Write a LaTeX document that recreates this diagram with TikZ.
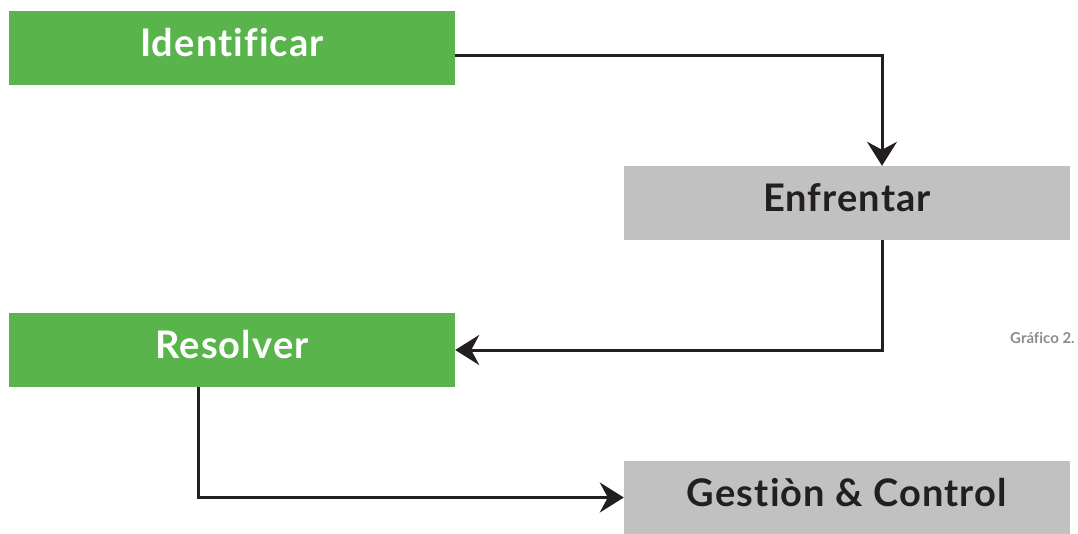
\documentclass[tikz,border=0pt]{standalone}
\usepackage{fontspec}
\setmainfont{Lato}[Ligatures=CommonOff]
\newfontfamily\boxfont{Lato}[Ligatures=CommonOff, LetterSpace=3]
\usetikzlibrary{arrows.meta}
\definecolor{boxgreen}{RGB}{88,180,75}
\definecolor{boxgray}{RGB}{192,193,192}
\definecolor{linedark}{RGB}{35,31,32}
\definecolor{captiongray}{RGB}{140,140,140}
\tikzset{
  boxbase/.style={minimum width=446pt, minimum height=74pt, inner sep=0pt, text height=17pt, text depth=0pt, font=\boxfont\bfseries\fontsize{38}{44}\selectfont},
  greenbox/.style={boxbase, fill=boxgreen, text=white},
  graybox/.style={boxbase, fill=boxgray, text=linedark},
  flow/.style={draw=linedark, line width=3pt, -{Stealth[length=24pt, width=30pt, inset=8pt]}}
}
\begin{document}
\begin{tikzpicture}[x=1pt,y=-1pt]
\useasboundingbox (0,0) rectangle (1078,534);
\node[greenbox] (id) at (232,48) {Identificar};
\node[graybox] (enf) at (847,203) {Enfrentar};
\node[greenbox] (res) at (232,350) {Resolver};
\node[graybox] (ges) at (847,497.5) {Gestiòn \& Control};
\node[anchor=base west, text=captiongray, font=\bfseries\fontsize{15}{17}\selectfont, inner sep=0pt] (cap) at (1010,343) {Gráfico 2.};
\draw[flow] ([yshift=-8pt]id.east) -| ([xshift=35pt]enf.north);
\draw[flow] ([xshift=35pt]enf.south) |- (res.east);
\draw[flow] ([xshift=-34pt]res.south) |- (ges.west);
\end{tikzpicture}
\end{document}
